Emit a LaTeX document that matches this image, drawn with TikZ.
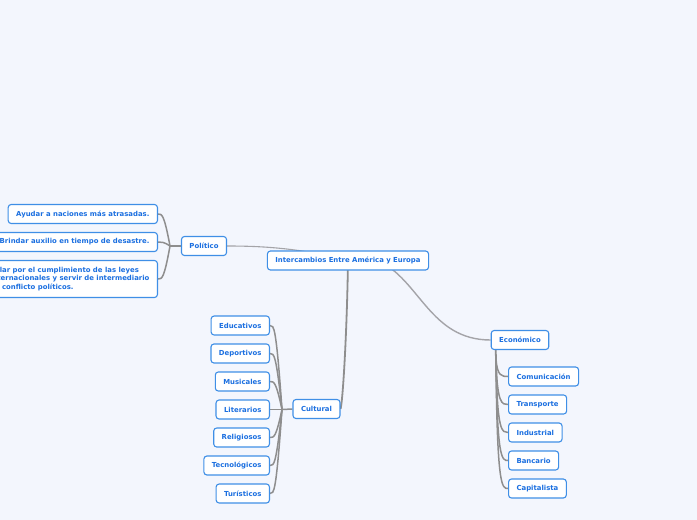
\documentclass[tikz,border=0pt]{standalone}
\usepackage{fontspec}
\setmainfont{DejaVu Sans}
\usetikzlibrary{calc,backgrounds}
\definecolor{bgc}{HTML}{F3F6FD}
\definecolor{txtc}{HTML}{1B6FE0}
\definecolor{brdc}{HTML}{3F8FE6}
\definecolor{boxc}{HTML}{FFFFFF}
\definecolor{lnc}{HTML}{8E8E8E}
\definecolor{lnl}{HTML}{A4A4A8}
\tikzset{
  topic/.style={draw=brdc, line width=1.1pt, fill=boxc, rounded corners=3pt,
    text=txtc, font=\fontsize{6.9}{8.6}\selectfont\bfseries,
    inner xsep=8pt, inner ysep=0pt, minimum height=19pt},
  conn/.style={draw=lnc, line width=1.5pt},
  connl/.style={draw=lnl, line width=1.1pt},
}
\begin{document}
\begin{tikzpicture}[x=1pt,y=-1pt]
\useasboundingbox (0,0) rectangle (697,520);
% nodes
\node[topic] (root) at (348,260.5) {Intercambios Entre América y Europa};
\node[topic] (pol) at (204,246) {Político};
\node[topic] (cul) at (316.5,409) {Cultural};
\node[topic] (eco) at (520,340) {Económico};
\node[topic, anchor=east] (p1) at (158,214) {Ayudar a naciones más atrasadas.};
\node[topic, anchor=east] (p2) at (158,242) {Brindar auxilio en tiempo de desastre.};
\node[topic, anchor=east, align=left, minimum height=37pt] (p3) at (158,279)
  {Velar por el cumplimiento de las leyes\\internacionales y servir de intermediario\\en conflicto políticos.};
\node[topic, anchor=east] (c1) at (270,325.5) {Educativos};
\node[topic, anchor=east] (c2) at (270,353.5) {Deportivos};
\node[topic, anchor=east] (c3) at (270,381.5) {Musicales};
\node[topic, anchor=east] (c4) at (270,409.5) {Literarios};
\node[topic, anchor=east] (c5) at (270,437.5) {Religiosos};
\node[topic, anchor=east] (c6) at (270,465.5) {Tecnológicos};
\node[topic, anchor=east] (c7) at (270,493.5) {Turísticos};
\node[topic, anchor=west] (e1) at (508,376.5) {Comunicación};
\node[topic, anchor=west] (e2) at (508,404.5) {Transporte};
\node[topic, anchor=west] (e3) at (508,432.5) {Industrial};
\node[topic, anchor=west] (e4) at (508,460.5) {Bancario};
\node[topic, anchor=west] (e5) at (508,488.5) {Capitalista};
\coordinate (pj) at (170,246);
\coordinate (cj) at (282,409.5);
\coordinate (ej) at (496,358);
\begin{pgfonlayer}{background}
\fill[bgc] (0,0) rectangle (697,520);
% main branches
\draw[connl] (root.center) .. controls (300,248) and (262,246) .. (pol.east);
\draw[conn, line width=1.8pt] (root.center) .. controls (347,330) and (343,400) .. (cul.east);
\draw[connl, line width=1.4pt] ($(root.center)+(30,0)$) .. controls (420,280) and (430,340) .. (eco.west);
% politico
\draw[conn] (pol.west) -- (pj);
\foreach \n in {p1,p2,p3}
  \draw[conn] (pj) .. controls ($(\n.east)+(6,0)$) and ($(\n.east)+(4,0)$) .. (\n.east);
% cultural
\draw[conn] (cul.west) -- (cj);
\foreach \n in {c1,c2,c3,c4,c5,c6,c7}
  \draw[conn] (cj) .. controls ($(\n.east)+(6,0)$) and ($(\n.east)+(4,0)$) .. (\n.east);
% economico
\draw[conn, line width=1.8pt] ($(eco.south west)+(5,0)$) -- (ej);
\foreach \n in {e1,e2,e3,e4,e5}
  \draw[conn] (ej) .. controls ($(\n.west)+(-11,0)$) and ($(\n.west)+(-6,0)$) .. (\n.west);
\end{pgfonlayer}
\end{tikzpicture}
\end{document}
